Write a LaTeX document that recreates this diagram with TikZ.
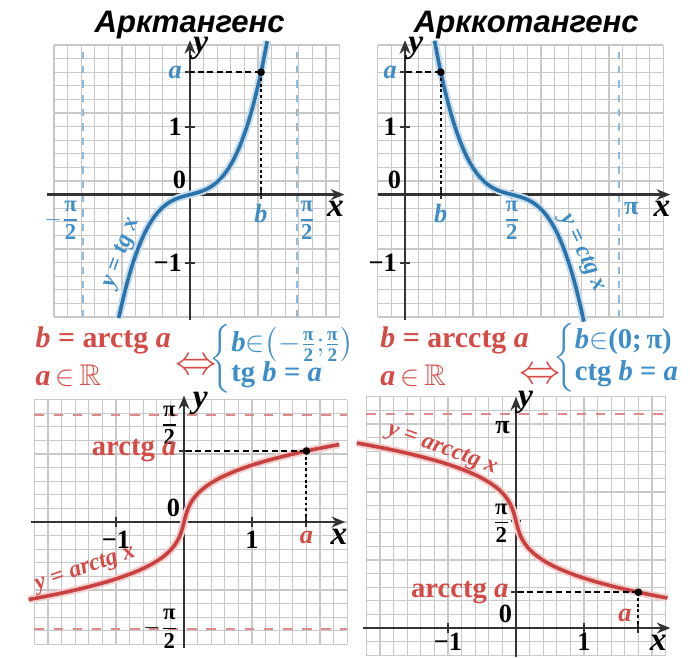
\documentclass[tikz,border=0pt]{standalone}
\usepackage{amsmath,amssymb}
\usepackage{fontspec}
\setmainfont{Liberation Serif}
\setsansfont{Liberation Sans}
\usepackage{tikz}
\usetikzlibrary{arrows.meta}
\definecolor{curveblue}{HTML}{2873AC}
\definecolor{labblue}{HTML}{3C8DC8}
\definecolor{curvered}{HTML}{C8413E}
\definecolor{labred}{HTML}{D64A45}
\definecolor{gridgray}{HTML}{C8C8C8}
\definecolor{axisgray}{HTML}{333333}
\definecolor{dashpink}{HTML}{E08A8A}
\definecolor{dashblue}{HTML}{8CBCE0}

% pi/2 as a stacked fraction, text at the node's own size
\newcommand{\hpi}{\genfrac{}{}{0.6pt}{0}{\text{π}}{\text{2}}}
\newcommand{\shpi}{\frac{\text{π}}{\text{2}}}

\tikzset{
  gridlines/.style={draw=gridgray,line width=0.5pt,step=0.2},
  axisline/.style={draw=axisgray,line width=1.1pt,-{Stealth[length=2mm,width=1.6mm]}},
  tick/.style={draw=axisgray,line width=0.9pt},
  bluecurve/.style={draw=curveblue,line width=1.5pt,
    preaction={draw=curveblue!25,line width=3.2pt}},
  redcurve/.style={draw=curvered,line width=1.5pt,
    preaction={draw=curvered!25,line width=3.2pt}},
  bluedash/.style={draw=dashblue,line width=0.9pt,dash pattern=on 3pt off 3pt},
  reddash/.style={draw=dashpink,line width=0.9pt,dash pattern=on 4pt off 4pt},
  guidedash/.style={draw=black,line width=0.8pt,dash pattern=on 2.5pt off 1.5pt},
  guidedot/.style={draw=black,line width=0.9pt,dash pattern=on 1.2pt off 1.2pt},
  lab/.style={inner sep=1.5pt,font=\bfseries\fontsize{11}{12}\selectfont},
  fraclab/.style={inner sep=1pt,font=\bfseries\fontsize{9.5}{10}\selectfont},
  axlab/.style={inner sep=1pt,font=\bfseries\itshape\fontsize{14}{15}\selectfont},
  funclab/.style={inner sep=1pt,font=\bfseries\itshape\fontsize{10}{11}\selectfont},
  titletext/.style={font=\sffamily\bfseries\itshape\fontsize{13}{15}\selectfont},
  redlab/.style={labred,font=\bfseries\fontsize{12.5}{14}\selectfont},
  bluelab/.style={labblue,font=\bfseries\fontsize{12}{13.5}\selectfont},
  iff/.style={labred,font=\fontsize{17}{18}\selectfont}
}

\begin{document}
\begin{tikzpicture}[x=1cm,y=1cm]
\useasboundingbox (0,0) rectangle (10.147,9.662);

\node[titletext] (ttlA) at (2.79,9.30) {Арктангенс};
\node[titletext] (ttlB) at (7.74,9.30) {Арккотангенс};

% y = tg x
\begin{scope}[shift={(2.794,6.80)}]
  \def\av{1.8}\def\bv{1.0445}
  \draw[gridlines] (-2.0,-1.8) grid (2.2,2.2);
  \draw[bluedash] ({-pi/2},-1.8) -- ({-pi/2},2.2);
  \draw[bluedash] ({pi/2},-1.8) -- ({pi/2},2.2);
  \draw[axisline] (-2.1,0) -- (2.27,0);
  \draw[axisline] (0,-1.85) -- (0,2.27);
  \foreach \t in {1,-1,\av}
    \draw[tick] (-0.07,\t) -- (0.07,\t);
  \draw[tick] (\bv,-0.07) -- (\bv,0.07);
  \draw[bluecurve] plot[domain=-1.048:1.136,samples=80] (\x,{1.35*\x*\x*\x+0.25*\x});
  \coordinate (tlP) at (\bv,\av);
  \coordinate (tlPy) at (0,\av);
  \coordinate (tlPx) at (\bv,0);
  \draw[guidedash] (tlP) -- (tlPy);
  \draw[guidedot] (tlP) -- (tlPx);
  \fill (tlP) circle (1.6pt);
  \node[lab,labblue,anchor=east] (tlA) at (-0.06,\av) {\textit{a}};
  \node[lab,anchor=east] (tlOne) at (-0.06,1) {1};
  \node[lab,anchor=east] (tlMOne) at (-0.06,-1) {−1};
  \node[lab,anchor=south east] (tlZero) at (0,0.02) {0};
  \node[lab,labblue,anchor=north] (tlB) at (\bv,-0.08) {\textit{b}};
  \node[fraclab,labblue,anchor=north west] (tlHalf) at ({pi/2-0.03},-0.05) {$\hpi$};
  \node[fraclab,labblue,anchor=north east] (tlMHalf) at ({-pi/2-0.01},-0.05) {$-\hpi$};
  \node[axlab] (tlX) at (2.14,-0.21) {x};
  \node[axlab] (tlY) at (0.16,2.15) {y};
  \node[funclab,labblue,rotate=70] (tlF) at (-1.0,-0.86) {y = tg x};
\end{scope}

% y = ctg x
\begin{scope}[shift={(5.956,6.80)}]
  \def\av{1.8}\def\bv{0.5263}
  \draw[gridlines] (-0.4,-1.8) grid (3.8,2.2);
  \draw[bluedash] (pi,-1.8) -- (pi,2.2);
  \draw[axisline] (-0.4,0) -- (3.9,0);
  \draw[axisline] (0,-1.85) -- (0,2.27);
  \foreach \t in {1,-1,\av}
    \draw[tick] (-0.07,\t) -- (0.07,\t);
  \draw[tick] (\bv,-0.07) -- (\bv,0.07);
  \draw[tick] ({pi/2},-0.07) -- ({pi/2},0.07);
  \draw[bluecurve] plot[domain=-1.136:1.06,samples=80]
    ({pi/2+\x},{-1.35*\x*\x*\x-0.25*\x});
  \coordinate (trP) at (\bv,\av);
  \coordinate (trPy) at (0,\av);
  \coordinate (trPx) at (\bv,0);
  \draw[guidedash] (trP) -- (trPy);
  \draw[guidedot] (trP) -- (trPx);
  \fill (trP) circle (1.6pt);
  \node[lab,labblue,anchor=east] (trA) at (-0.06,\av) {\textit{a}};
  \node[lab,anchor=east] (trOne) at (-0.06,1) {1};
  \node[lab,anchor=east] (trMOne) at (-0.06,-1) {−1};
  \node[lab,anchor=south east] (trZero) at (0,0.02) {0};
  \node[lab,labblue,anchor=north] (trB) at (\bv,-0.08) {\textit{b}};
  \node[fraclab,labblue,anchor=north] (trHalf) at ({pi/2},-0.05) {$\hpi$};
  \node[lab,labblue,anchor=north west] (trPi) at ({pi+0.02},-0.06) {π};
  \node[axlab] (trX) at (3.78,-0.21) {x};
  \node[axlab] (trY) at (0.16,2.15) {y};
  \node[funclab,labblue,rotate=-65] (trF) at (2.60,-0.86) {y = ctg x};
\end{scope}

% equivalences
\node[redlab,anchor=west] (eqA) at (0.40,4.66) {\textit{b} = arctg \textit{a}};
\node[redlab,anchor=west] (domA) at (0.40,4.14) {\textit{a}\,$\mathord{\in}$\,$\mathbb{R}$};
\node[iff] (iffA) at (2.88,4.27) {$\Leftrightarrow$};
\node[bluelab,anchor=west,inner sep=0pt] (sysA) at (3.08,4.38)
  {$\left\{\begin{tabular}{@{}l@{}}\textit{b}$\mathord{\in}\!\left(\mathord{-}\shpi;\!\shpi\right)$\\[-1pt]
   tg \textit{b} = \textit{a}\end{tabular}\right.$};
\node[redlab,anchor=west] (eqB) at (5.47,4.66) {\textit{b} = arcctg \textit{a}};
\node[redlab,anchor=west] (domB) at (5.47,4.14) {\textit{a}\,$\mathord{\in}$\,$\mathbb{R}$};
\node[iff] (iffB) at (7.95,4.14) {$\Leftrightarrow$};
\node[bluelab,anchor=west,inner sep=0pt] (sysB) at (8.13,4.40)
  {$\left\{\begin{tabular}{@{}l@{}}\textit{b}$\mathord{\in}$(0;\,π)\\
   ctg \textit{b} = \textit{a}\end{tabular}\right.$};

% y = arctg x
\begin{scope}[shift={(2.706,1.985)}]
  \def\av{1.8}\def\bv{1.0445}
  \draw[gridlines] (-2.2,-1.8) grid (2.4,1.8);
  \draw[reddash] (-2.2,{pi/2}) -- (2.4,{pi/2});
  \draw[reddash] (-2.2,{-pi/2}) -- (2.4,{-pi/2});
  \draw[axisline] (-2.25,0) -- (2.37,0);
  \draw[axisline] (0,-1.85) -- (0,1.86);
  \foreach \t in {1,-1,\av}
    \draw[tick] (\t,-0.07) -- (\t,0.07);
  \draw[tick] (-0.07,\bv) -- (0.07,\bv);
  \draw[redcurve] plot[domain=-1.14:1.14,samples=80] ({1.35*\x*\x*\x+0.25*\x},\x);
  \coordinate (blP) at (\av,\bv);
  \coordinate (blPy) at (0,\bv);
  \coordinate (blPx) at (\av,0);
  \draw[guidedash] (blP) -- (blPy);
  \draw[guidedot] (blP) -- (blPx);
  \fill (blP) circle (1.6pt);
  \node[fraclab,anchor=east] (blHalf) at (-0.04,1.42) {$\hpi$};
  \node[fraclab,anchor=east] (blMHalf) at (-0.04,{-pi/2}) {$-\hpi$};
  \node[lab,labred,anchor=east,font=\bfseries\fontsize{12}{13}\selectfont]
    (blArc) at (-0.05,\bv) {arctg \textit{a}};
  \node[lab,anchor=south east] (blZero) at (0,0.02) {0};
  \node[lab,anchor=north] (blMOne) at (-1,-0.08) {−1};
  \node[lab,anchor=north] (blOne) at (1,-0.08) {1};
  \node[lab,labred,anchor=north] (blA) at (\av,-0.08) {\textit{a}};
  \node[axlab] (blX) at (2.28,-0.22) {x};
  \node[axlab] (blY) at (0.24,1.75) {y};
  \node[funclab,labred,rotate=19] (blF) at (-1.45,-0.70) {y = arctg x};
\end{scope}

% y = arcctg x
\begin{scope}[shift={(7.588,0.426)}]
  \def\av{1.8}\def\bv{0.5263}
  \draw[gridlines] (-2.2,-0.4) grid (2.2,3.4);
  \draw[reddash] (-2.2,pi) -- (2.2,pi);
  \draw[axisline] (-2.25,0) -- (2.27,0);
  \draw[axisline] (0,-0.42) -- (0,3.4);
  \foreach \t in {1,-1,\av}
    \draw[tick] (\t,-0.07) -- (\t,0.07);
  \draw[tick] (-0.07,\bv) -- (0.07,\bv);
  \draw[tick] (-0.07,{pi/2}) -- (0.07,{pi/2});
  \draw[redcurve] plot[domain=-1.15:1.13,samples=80]
    ({1.35*\x*\x*\x+0.25*\x},{pi/2-\x});
  \coordinate (brP) at (\av,\bv);
  \coordinate (brPy) at (0,\bv);
  \coordinate (brPx) at (\av,0);
  \draw[guidedash] (brP) -- (brPy);
  \draw[guidedot] (brP) -- (brPx);
  \fill (brP) circle (1.6pt);
  \node[lab,anchor=north east] (brPi) at (-0.03,{pi-0.04}) {π};
  \node[fraclab,anchor=east] (brHalf) at (-0.04,{pi/2-0.03}) {$\hpi$};
  \node[lab,labred,anchor=east,font=\bfseries\fontsize{12}{13}\selectfont]
    (brArc) at (-0.05,\bv) {arcctg \textit{a}};
  \node[lab,anchor=south east] (brZero) at (0,0.02) {0};
  \node[lab,anchor=north,inner sep=0.5pt] (brMOne) at (-1,-0.05) {−1};
  \node[lab,anchor=north,inner sep=0.5pt] (brOne) at (1,-0.05) {1};
  \node[lab,labred,anchor=south east] (brA) at (1.76,0.03) {\textit{a}};
  \node[axlab] (brX) at (2.09,-0.21) {x};
  \node[axlab] (brY) at (0.14,3.32) {y};
  \node[funclab,labred,rotate=-20] (brF) at (-1.09,2.62) {y = arcctg x};
\end{scope}

\end{tikzpicture}
\end{document}
